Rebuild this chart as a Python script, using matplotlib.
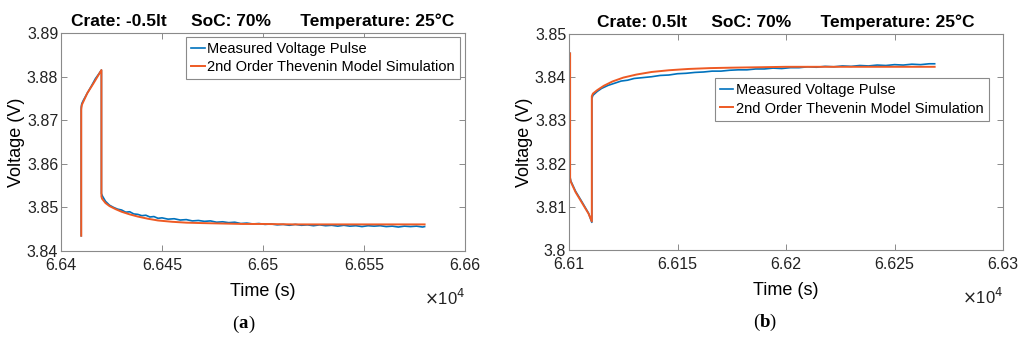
import matplotlib
matplotlib.use("Agg")
import matplotlib.pyplot as plt
from matplotlib.transforms import offset_copy
import numpy as np

plt.rcParams['font.family'] = ['Liberation Sans', 'DejaVu Sans']

# ---------------- Data (a): Crate -0.5It ----------------
t_a_meas = [6.6410, 6.6410, 6.64103, 6.6411, 6.6413, 6.6415, 6.6417, 6.6419, 6.6420, 6.6420,
            6.64205, 6.6422, 6.6424, 6.6426, 6.6428, 6.6430, 6.6432, 6.6434, 6.6436, 6.6438,
            6.6440, 6.6442, 6.6444, 6.6446, 6.6448, 6.6450, 6.6453, 6.6456, 6.6459, 6.6462,
            6.6465, 6.6468, 6.6471, 6.6474, 6.6477, 6.6480, 6.6483, 6.6486, 6.6489, 6.6492,
            6.6495, 6.6498, 6.6501, 6.6504, 6.6507, 6.6510, 6.6513, 6.6516, 6.6519, 6.6522,
            6.6525, 6.6528, 6.6531, 6.6534, 6.6537, 6.6540, 6.6543, 6.6546, 6.6549, 6.6552,
            6.6555, 6.6558, 6.6561, 6.6564, 6.6567, 6.6570, 6.6573, 6.6576, 6.6579, 6.6580]
v_a_meas = [3.8435, 3.8730, 3.8738, 3.8745, 3.8762, 3.8778, 3.8795, 3.8808, 3.8815, 3.8532,
            3.8526, 3.8514, 3.8505, 3.8500, 3.8496, 3.8494, 3.8489, 3.8490, 3.8485, 3.8484,
            3.8481, 3.8482, 3.8478, 3.8479, 3.8475, 3.8476, 3.8473, 3.8474, 3.8471, 3.8472,
            3.8469, 3.8470, 3.8468, 3.8469, 3.8466, 3.8467, 3.8465, 3.8466, 3.8463, 3.8464,
            3.8462, 3.8463, 3.8461, 3.8462, 3.8460, 3.8461, 3.8459, 3.8461, 3.8459, 3.8460,
            3.8458, 3.8460, 3.8458, 3.8459, 3.8457, 3.8459, 3.8457, 3.8458, 3.8456, 3.8458,
            3.8457, 3.8458, 3.8456, 3.8457, 3.8455, 3.8457, 3.8456, 3.8457, 3.8455, 3.8456]

t_a_sim = [6.6410, 6.6410, 6.64103, 6.6413, 6.6416, 6.6420, 6.6420, 6.64203, 6.6422, 6.6424,
           6.6427, 6.6430, 6.6434, 6.6438, 6.6443, 6.6448, 6.6455, 6.6462, 6.6470, 6.6480,
           6.6490, 6.6500, 6.6515, 6.6530, 6.6550, 6.6580]
v_a_sim = [3.8435, 3.8725, 3.8735, 3.8762, 3.8784, 3.8815, 3.8525, 3.8520, 3.8510, 3.8503,
           3.8496, 3.8490, 3.8484, 3.8479, 3.8474, 3.8470, 3.8467, 3.8465, 3.8464, 3.8463,
           3.8462, 3.8462, 3.8461, 3.8461, 3.8461, 3.8461]

# ---------------- Data (b): Crate 0.5It ----------------
t_b_meas = [6.61005, 6.61005, 6.61008, 6.6103, 6.6106, 6.6109, 6.61105, 6.61105, 6.6111, 6.6113,
            6.6115, 6.6118, 6.6121, 6.6124, 6.6127, 6.6130, 6.6134, 6.6138, 6.6142, 6.6146,
            6.6150, 6.6154, 6.6158, 6.6162, 6.6166, 6.6170, 6.6174, 6.6178, 6.6182, 6.6186,
            6.6190, 6.6194, 6.6198, 6.6202, 6.6206, 6.6210, 6.6214, 6.6218, 6.6222, 6.6226,
            6.6230, 6.6234, 6.6238, 6.6242, 6.6246, 6.6250, 6.6254, 6.6258, 6.6262, 6.6266,
            6.62685]
v_b_meas = [3.8455, 3.8168, 3.8160, 3.8136, 3.8111, 3.8085, 3.8064, 3.8350, 3.8358, 3.8367,
            3.8374, 3.8381, 3.8386, 3.8391, 3.8393, 3.8397, 3.8399, 3.8401, 3.8404, 3.8405,
            3.8408, 3.8409, 3.8411, 3.8412, 3.8414, 3.8414, 3.8416, 3.8417, 3.8417, 3.8419,
            3.8419, 3.8421, 3.8420, 3.8422, 3.8422, 3.8424, 3.8423, 3.8425, 3.8424, 3.8426,
            3.8425, 3.8427, 3.8426, 3.8428, 3.8427, 3.8429, 3.8428, 3.8430, 3.8429, 3.8431,
            3.8431]

t_b_sim = [6.61005, 6.61005, 6.61008, 6.6103, 6.6106, 6.6109, 6.61105, 6.61105, 6.6111, 6.6113,
           6.6116, 6.6120, 6.6125, 6.6131, 6.6138, 6.6146, 6.6155, 6.6165, 6.6175, 6.6188,
           6.6200, 6.6220, 6.6245, 6.62685]
v_b_sim = [3.8455, 3.8166, 3.8158, 3.8134, 3.8109, 3.8084, 3.8066, 3.8356, 3.8362, 3.8370,
           3.8380, 3.8390, 3.8399, 3.8406, 3.8412, 3.8416, 3.8419, 3.8421, 3.8422, 3.8423,
           3.8424, 3.8424, 3.8424, 3.8424]

legend_labels = ['Measured Voltage Pulse', '2nd Order Thevenin Model Simulation']
titles = ['Crate: -0.5lt     SoC: 70%      Temperature: 25\u00b0C',
          'Crate: 0.5lt     SoC: 70%      Temperature: 25\u00b0C']
panel_letters = ['a', 'b']

xlim_a = (6.64, 6.66)
xticks_a = [6.64, 6.645, 6.65, 6.655, 6.66]
xticklabels_a = ['6.64', '6.645', '6.65', '6.655', '6.66']
ylim_a = (3.84, 3.89)
yticks_a = [3.84, 3.85, 3.86, 3.87, 3.88, 3.89]
yticklabels_a = ['3.84', '3.85', '3.86', '3.87', '3.88', '3.89']

xlim_b = (6.61, 6.63)
xticks_b = [6.61, 6.615, 6.62, 6.625, 6.63]
xticklabels_b = ['6.61', '6.615', '6.62', '6.625', '6.63']
ylim_b = (3.80, 3.85)
yticks_b = [3.80, 3.81, 3.82, 3.83, 3.84, 3.85]
yticklabels_b = ['3.8', '3.81', '3.82', '3.83', '3.84', '3.85']

BLUE = '#0072BD'
ORANGE = '#EE5A24'
AXC = '#8a8a8a'

fig = plt.figure(figsize=(10.24, 3.37), dpi=100)
ax_a = fig.add_axes([0.0596, 0.2552, 0.3945, 0.6469])
ax_b = fig.add_axes([0.5557, 0.2582, 0.4238, 0.6410])
renderer = fig.canvas.get_renderer()

configs = [
    (ax_a, t_a_meas, v_a_meas, t_a_sim, v_a_sim, xlim_a, xticks_a, xticklabels_a,
     ylim_a, yticks_a, yticklabels_a, titles[0], (0.988, 0.982), panel_letters[0]),
    (ax_b, t_b_meas, v_b_meas, t_b_sim, v_b_sim, xlim_b, xticks_b, xticklabels_b,
     ylim_b, yticks_b, yticklabels_b, titles[1], (0.968, 0.796), panel_letters[1]),
]

for (ax, tm, vm, ts, vs, xl, xt, xtl, yl, yt, ytl, title, legpos, letter) in configs:
    ax.plot(tm, vm, color=BLUE, lw=1.2, label=legend_labels[0])
    ax.plot(ts, vs, color=ORANGE, lw=1.4, label=legend_labels[1])
    ax.set_xlim(*xl)
    ax.set_ylim(*yl)
    ax.set_xticks(xt)
    ax.set_xticklabels(xtl)
    ax.set_yticks(yt)
    ax.set_yticklabels(ytl)
    ax.tick_params(direction='in', length=4, width=0.7, colors=AXC, labelcolor='#222222',
                   labelsize=11.5, top=True, right=True)
    ax.tick_params(axis='x', pad=5)
    ax.tick_params(axis='y', pad=2)
    for sp in ax.spines.values():
        sp.set_color(AXC)
        sp.set_linewidth(0.8)
    ax.set_title(title, fontsize=12.5, fontweight='bold', pad=5)
    ax.set_ylabel('Voltage (V)', fontsize=13, labelpad=1)
    ax.set_xlabel('Time (s)', fontsize=13, labelpad=7)
    ax.text(1.0, -0.17, r'$\times$10$^4$', transform=ax.transAxes, ha='right', va='top',
            fontsize=12, color='#222222')
    # panel label "(a)" with bold letter, placed piecewise
    x0 = 0.424
    t1 = ax.text(x0, -0.295, '(', transform=ax.transAxes, ha='left', va='top',
                 fontsize=13.5, family='Liberation Serif')
    w1 = t1.get_window_extent(renderer).width
    tr2 = offset_copy(ax.transAxes, fig=fig, x=w1 * 72 / fig.dpi, y=0, units='points')
    t2 = ax.text(x0, -0.295, letter, transform=tr2, ha='left', va='top',
                 fontsize=13.5, family='Liberation Serif', fontweight='bold')
    w2 = t2.get_window_extent(renderer).width
    tr3 = offset_copy(ax.transAxes, fig=fig, x=(w1 + w2) * 72 / fig.dpi, y=0, units='points')
    ax.text(x0, -0.295, ')', transform=tr3, ha='left', va='top',
            fontsize=13.5, family='Liberation Serif')
    leg = ax.legend(loc='upper right', bbox_to_anchor=legpos, fontsize=10.5,
                    handlelength=0.9, handletextpad=0.2, borderpad=0.35,
                    labelspacing=0.3, borderaxespad=0.0, fancybox=False, framealpha=1)
    leg.get_frame().set_edgecolor(AXC)
    leg.get_frame().set_linewidth(0.8)

fig.savefig('out.png', dpi=100)
